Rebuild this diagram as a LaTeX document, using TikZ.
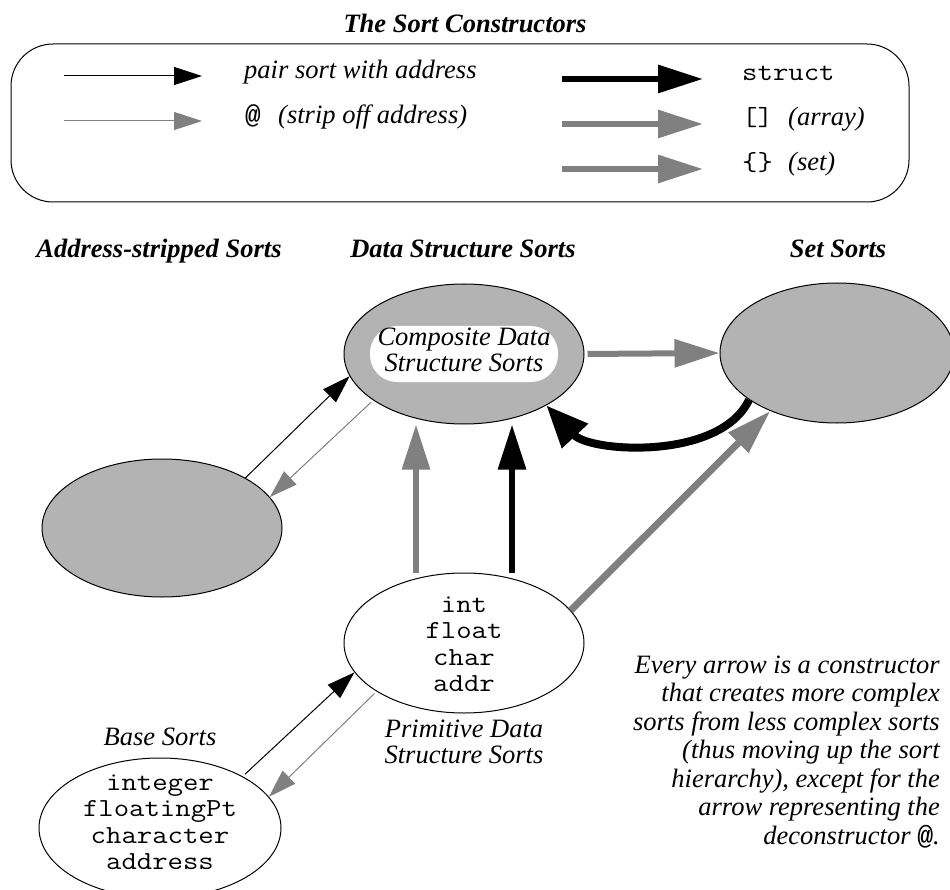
\documentclass[tikz,border=0pt]{standalone}
\usepackage{fontspec}
\setmainfont{Liberation Serif}
\setmonofont{Liberation Mono}
\newfontfamily\typewriter{Latin Modern Mono}[FakeStretch=1.15]
\usetikzlibrary{arrows.meta,shapes.geometric}
\definecolor{sortfill}{RGB}{179,179,179}
\definecolor{arrowgray}{RGB}{128,128,128}

\begin{document}
\begin{tikzpicture}[x=1pt,y=-1pt,
  txt/.style={font=\fontsize{26.5}{26.5}\selectfont\itshape, inner sep=0pt},
  note/.style={font=\fontsize{26.5}{28.5}\selectfont\itshape, inner sep=0pt},
  hd/.style={font=\fontsize{26.5}{26.5}\selectfont\bfseries\itshape, inner sep=0pt},
  code/.style={font=\fontsize{26}{26.6}\selectfont\typewriter, inner sep=0pt},
  atsign/.style={font=\fontsize{26}{26}\selectfont\ttfamily\bfseries, inner sep=0pt},
  sort/.style={ellipse, draw=black, line width=1pt, inner sep=0pt},
  shaded/.style={sort, fill=sortfill},
  plain/.style={sort, fill=white},
  thinblack/.style={draw=black, line width=1pt, -{Triangle[length=28pt,width=18pt]}},
  thingray/.style={draw=arrowgray, line width=1pt, -{Triangle[length=28pt,width=18pt]}},
  thickblack/.style={draw=black, line width=6pt, -{Triangle[length=45pt,width=27pt]}},
  thickgray/.style={draw=arrowgray, line width=6pt, -{Triangle[length=45pt,width=27pt]}},
  curvedblack/.style={draw=black, line width=8pt, -{Triangle[length=42pt,width=34pt]}},
]
\useasboundingbox (0,0) rectangle (950,890);

% ---------- legend ----------
\node[hd, anchor=base] (title) at (465,33) {The Sort Constructors};
\draw[line width=1pt, rounded corners=42pt] (11,44) rectangle (909,202);

\coordinate (l1a) at (64,76);  \coordinate (l1b) at (202,76);
\coordinate (l2a) at (64,121); \coordinate (l2b) at (202,121);
\coordinate (r1a) at (562,79); \coordinate (r1b) at (703,79);
\coordinate (r2a) at (562,124); \coordinate (r2b) at (703,124);
\coordinate (r3a) at (562,169); \coordinate (r3b) at (703,169);

\draw[thinblack] (l1a) -- (l1b);
\draw[thingray] (l2a) -- (l2b);
\draw[thickblack] (r1a) -- (r1b);
\draw[thickgray] (r2a) -- (r2b);
\draw[thickgray] (r3a) -- (r3b);

\node[txt, anchor=base west] (pairlbl) at (244,79) {pair sort with address};
\node[atsign, anchor=base west] (atlbl) at (245,124) {@};
\node[txt, anchor=base west] (striplbl) at (278,124) {(strip off address)};
\node[code, anchor=base west] (structlbl) at (742,81) {struct};
\node[code, anchor=base west] (arraybr) at (742,126) {[]};
\node[txt, anchor=base west] (arraylbl) at (788,126) {(array)};
\node[code, anchor=base west] (setbr) at (742,171) {\{\}};
\node[txt, anchor=base west] (setlbl) at (788,171) {(set)};

% ---------- column headings ----------
\node[hd, anchor=base] (hdaddr) at (159,258) {Address-stripped Sorts};
\node[hd, anchor=base] (hddata) at (463,258) {Data Structure Sorts};
\node[hd, anchor=base] (hdset) at (838,258) {Set Sorts};

% ---------- sorts ----------
\node[shaded, minimum width=240pt, minimum height=140pt] (comp) at (464,354) {};
\node[fill=white, rounded corners=27pt, minimum width=188pt, minimum height=56pt, inner sep=0pt] (compin) at (464,354) {};
\node[txt, anchor=base] (comptext) at (464,345)
  {\begin{tabular}[t]{@{}c@{}}Composite Data\\Structure Sorts\end{tabular}};

\node[shaded, minimum width=234pt, minimum height=140pt] (setS) at (837,353) {};
\node[shaded, minimum width=240pt, minimum height=138pt] (addr) at (162,528) {};

\node[plain, minimum width=240pt, minimum height=140pt] (prim) at (464,643) {};
\node[code, anchor=base] (primtext) at (464,612)
  {\begin{tabular}[t]{@{}c@{}}int\\float\\char\\addr\end{tabular}};
\node[txt, anchor=base] (primlbl) at (464,737)
  {\begin{tabular}[t]{@{}c@{}}Primitive Data\\Structure Sorts\end{tabular}};

\node[plain, minimum width=242pt, minimum height=140pt] (base) at (160,828) {};
\node[code, anchor=base] (basetext) at (160,790)
  {\begin{tabular}[t]{@{}c@{}}integer\\floatingPt\\character\\address\end{tabular}};
\node[txt, anchor=base] (baselbl) at (160,745) {Base Sorts};

% ---------- constructors ----------
\draw[thinblack] (addr.31) -- (comp.191);
\draw[thingray, shorten <=3pt] (comp.207) -- (addr.16);
\draw[thickgray] ([xshift=-48pt]prim.north) -- ([xshift=-48pt]comp.south);
\draw[thickblack] ([xshift=48pt]prim.north) -- ([xshift=48pt]comp.south);
\draw[thickgray, shorten <=3pt] (comp.east) -- (setS.west);
\draw[curvedblack] (setS.208) .. controls +(-29,61) and +(44,47) .. (comp.328);
\draw[thickgray, line width=7pt] (prim.17) -- (setS.221);
\draw[thinblack, shorten <=3pt] (base.32) -- (prim.195);
\draw[thingray, shorten <=3pt] (prim.209) -- (base.16);

% ---------- note ----------
\node[note, anchor=base east] (notetext) at (940,673)
  {\begin{tabular}[t]{@{}r@{}}Every arrow is a constructor\\
   that creates more complex\\
   sorts from less complex sorts\\
   (thus moving up the sort\\
   hierarchy), except for the\\
   arrow representing the\\
   deconstructor {\upshape\ttfamily\bfseries @}.\end{tabular}};
\end{tikzpicture}
\end{document}
